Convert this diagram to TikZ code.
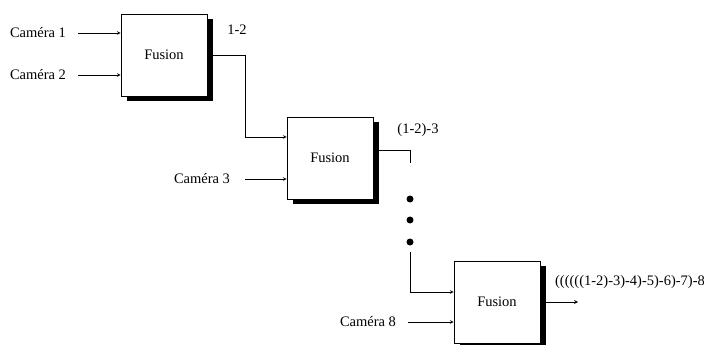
\documentclass[tikz,border=0pt]{standalone}
\usepackage{fontspec}
\setmainfont{Liberation Serif}
\usetikzlibrary{shadows}

\begin{document}
\begin{tikzpicture}
[
	x=1pt, y=-1pt,
	font=\fontsize{14.5}{16}\selectfont,
	fusbox/.style={draw, fill=white, line width=0.6pt, minimum width=86pt, minimum height=82pt,
		drop shadow={shadow xshift=6pt, shadow yshift=-5pt, fill=black, opacity=1}},
	camtxt/.style={inner sep=0pt},
	dotpt/.style={circle, fill, inner sep=0pt, minimum size=7pt},
	wire/.style={line width=0.7pt},
	>=stealth
]
	\useasboundingbox (0,0) rectangle (704,345);

	% fusion boxes
	\node[fusbox] (fus1) at (164,55) {Fusion};
	\node[fusbox] (fus2) at (330,158) {Fusion};
	\node[fusbox] (fus3) at (497,302) {Fusion};

	% cameras
	\node[camtxt] (cam1) at (38,33) {Caméra 1};
	\node[camtxt] (cam2) at (38,75) {Caméra 2};
	\node[camtxt] (cam3) at (202,179) {Caméra 3};
	\node[camtxt] (cam8) at (368,322) {Caméra 8};

	% labels
	\node (lab1) at (237,30) {1-2};
	\node (lab2) at (418,130) {(1-2)-3};
	\node (lab3) at (630,282) {((((((1-2)-3)-4)-5)-6)-7)-8};

	% junctions
	\coordinate (j1) at (245,137);
	\coordinate (j2) at (410,163);
	\coordinate (j3) at (410,252);
	\coordinate (j4) at (410,292);
	\coordinate (out) at (578,302);

	% dots
	\node[dotpt] (d1) at (410,199) {};
	\node[dotpt] (d2) at (410,220) {};
	\node[dotpt] (d3) at (410,242) {};

	% inputs
	\draw[wire,->] ([xshift=12pt]cam1.east) -- (fus1.west |- cam1);
	\draw[wire,->] ([xshift=12pt]cam2.east) -- (fus1.west |- cam2);
	\draw[wire,->] ([xshift=15pt]cam3.east) -- (fus2.west |- cam3);
	\draw[wire,->] ([xshift=12pt]cam8.east) -- (fus3.west |- cam8);

	% chain
	\draw[wire,->] (fus1.east) -| (j1) -- (fus2.west |- j1);
	\draw[wire] ([yshift=8pt]fus2.east) -| (j2);
	\draw[wire,->] (j3) -- (j4) -- (fus3.west |- j4);
	\draw[wire,->] (fus3.east) -- (out);

\end{tikzpicture}
\end{document}
